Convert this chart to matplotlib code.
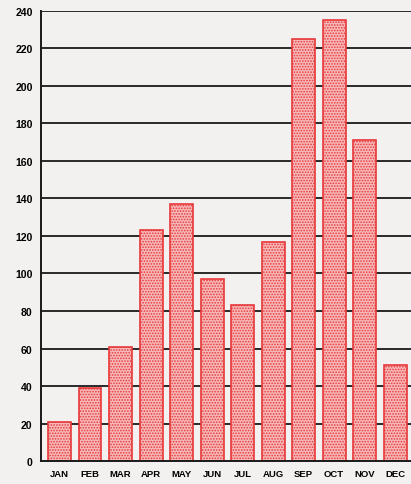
import numpy as np
import matplotlib.pyplot as plt

months = ['JAN', 'FEB', 'MAR', 'APR', 'MAY', 'JUN', 'JUL', 'AUG', 'SEP', 'OCT', 'NOV', 'DEC']
values = [21, 39, 61, 123, 137, 97, 83, 117, 225, 235, 171, 51]
yticks = list(range(0, 241, 20))

plt.rcParams['hatch.linewidth'] = 0.8
fig = plt.figure(figsize=(4.11, 4.85), dpi=100, facecolor='#f3f1ef')
ax = fig.add_axes([0.0998, 0.0474, 0.9002, 0.9279], facecolor='#f3f1ef')

x = np.arange(len(months))
# grid behind the bars
for yv in yticks[1:]:
    ax.axhline(yv, color='#1a1a1a', lw=1.3, zorder=1)
ax.bar(x, values, width=0.75, color='#f6b9b9', edgecolor='#e8383a',
       hatch='......', lw=1.2, zorder=2)

ax.set_xlim(-0.607, 11.52)
ax.set_ylim(0, 240)
ax.set_yticks(yticks)
ax.set_xticks(x)
ax.set_xticklabels(months)
ax.tick_params(axis='y', length=0, labelsize=7.6, pad=6)
ax.tick_params(axis='x', length=0, labelsize=6.8, pad=6)
for lab in ax.get_xticklabels() + ax.get_yticklabels():
    lab.set_fontweight('bold')
    lab.set_family('Liberation Sans')
for s in ['top', 'right']:
    ax.spines[s].set_visible(False)
ax.spines['left'].set_linewidth(1.4)
ax.spines['bottom'].set_linewidth(1.4)
ax.spines['left'].set_color('#1a1a1a')
ax.spines['bottom'].set_color('#1a1a1a')

fig.savefig('out.png', dpi=100, facecolor=fig.get_facecolor())
